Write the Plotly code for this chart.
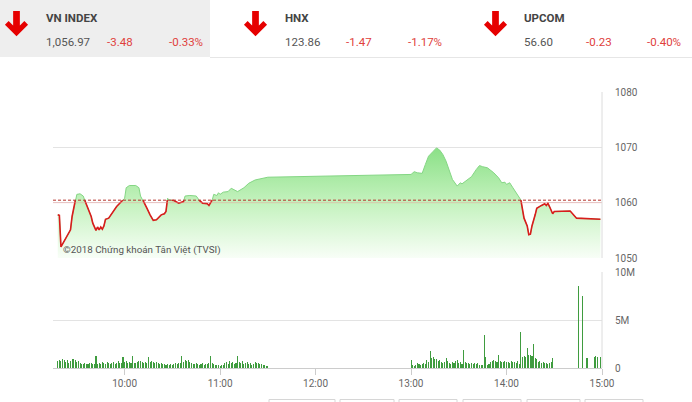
import datetime as dt
import plotly.graph_objects as go

DAY = dt.date(2018, 1, 1)

# ---------------- data ----------------
ref_value = 1060.45

price_times = ["09:18", "09:19", "09:20", "09:22", "09:26", "09:27", "09:29", "09:30", "09:32", "09:34",
               "09:35", "09:37", "09:39", "09:40", "09:42", "09:43", "09:44", "09:45", "09:46", "09:47",
               "09:48", "09:50", "09:52", "09:55", "09:58", "10:00", "10:01", "10:03", "10:07", "10:09",
               "10:10", "10:12", "10:14", "10:16", "10:18", "10:20", "10:23", "10:25", "10:26", "10:27",
               "10:28", "10:31", "10:34", "10:36", "10:37", "10:38", "10:41", "10:45", "10:47", "10:49",
               "10:52", "10:53", "10:55", "10:56", "10:58", "10:59", "11:00", "11:02", "11:05", "11:07",
               "11:09", "11:11", "11:15", "11:18", "11:22", "11:27", "11:30",
               "13:00", "13:02", "13:04", "13:07", "13:09", "13:11", "13:14", "13:16", "13:18", "13:20",
               "13:22", "13:24", "13:26", "13:29", "13:31", "13:32", "13:35", "13:38", "13:41", "13:43",
               "13:45", "13:48", "13:52", "13:55", "13:57", "13:59", "14:00", "14:02", "14:04", "14:06",
               "14:08", "14:09", "14:10", "14:11", "14:13", "14:14", "14:15", "14:16", "14:18", "14:19",
               "14:22", "14:24", "14:25", "14:26", "14:27", "14:29", "14:30", "14:40", "14:44", "14:59"]
price_values = [1057.8, 1057.7, 1052.0, 1053.0, 1055.1, 1057.5, 1060.4, 1061.5, 1061.6, 1061.2,
                1060.4, 1059.0, 1057.5, 1056.3, 1055.0, 1055.6, 1055.1, 1055.6, 1055.2, 1055.8,
                1057.0, 1057.2, 1058.1, 1059.3, 1060.2, 1060.8, 1062.7, 1063.1, 1063.1, 1062.7,
                1061.2, 1060.2, 1059.0, 1057.8, 1056.8, 1056.9, 1057.8, 1058.0, 1058.4, 1060.8,
                1060.5, 1060.4, 1059.9, 1060.1, 1060.2, 1061.2, 1061.3, 1061.2, 1060.4, 1059.9,
                1059.8, 1059.5, 1060.4, 1061.5, 1061.3, 1061.8, 1061.5, 1061.9, 1062.0, 1062.6,
                1062.3, 1062.0, 1062.7, 1063.5, 1064.1, 1064.5, 1064.6,
                1065.1, 1065.6, 1065.4, 1065.3, 1066.9, 1068.4, 1069.3, 1069.9, 1069.5, 1068.7,
                1067.5, 1065.7, 1064.2, 1063.0, 1063.6, 1063.4, 1064.1, 1064.7, 1066.0, 1066.7,
                1066.5, 1066.3, 1065.4, 1064.5, 1063.6, 1063.7, 1063.3, 1063.6, 1062.7, 1061.9,
                1061.1, 1060.5, 1058.7, 1057.2, 1055.8, 1054.2, 1054.3, 1055.8, 1057.8, 1059.0,
                1059.5, 1059.8, 1059.5, 1059.9, 1059.3, 1058.0, 1058.4, 1058.5, 1057.2, 1057.0]

# volume in millions, one bar per minute
morning_start = "09:18"
morning_vol = [0.75, 0.85, 0.7, 0.9, 0.8, 0.65, 0.85, 0.5, 0.7, 0.9, 0.95, 0.85, 0.6, 0.7, 0.55,
               0.45, 0.4, 0.5, 0.45, 0.4, 0.5, 0.55, 0.4, 0.45,
               1.3,
               0.45, 0.5, 0.4, 0.6, 0.5, 0.45, 0.65, 0.5, 0.4, 0.55, 0.6, 0.45, 0.5, 0.7, 0.55, 0.5,
               1.1,
               0.6, 0.75, 0.5, 0.65, 0.55,
               1.3,
               0.5, 0.55, 0.6, 0.7, 0.75, 0.6, 0.5, 0.65, 0.55,
               1.1,
               0.6, 0.7, 0.65, 0.55, 0.6, 0.5, 0.45, 0.55, 0.4, 0.45, 0.35, 0.4, 0.3, 0.45, 0.35, 0.4,
               0.5, 0.45, 0.55, 0.5,
               1.2,
               0.6, 0.8, 0.7, 0.85, 0.65, 0.5, 0.45, 0.4, 0.5, 0.45, 0.35, 0.4, 0.5, 0.35, 0.45, 0.4, 0.5,
               1.2,
               0.5, 0.4, 0.3, 0.35, 0.3, 0.25, 0.35, 0.3, 0.5, 0.6, 0.4, 0.7, 0.5, 0.65, 0.45, 0.55,
               1.2,
               0.6, 0.5, 0.7, 0.45, 0.55, 0.6, 0.4, 0.5, 0.35, 0.45, 0.6, 0.5, 0.55, 0.45, 0.4, 0.35,
               0.3, 0.25, 0.2]

afternoon_start = "13:00"
afternoon_vol = [0.87,
                 0.3, 0.25, 0.3, 0.5, 0.4,
                 0.35, 0.4, 0.5, 0.4, 0.8,
                 0.6, 1.8,
                 1.0, 1.1, 0.95, 0.9, 0.7, 0.8,
                 0.6, 0.5, 0.6, 1.0,
                 0.7, 0.5, 0.45, 0.6, 0.5, 0.7,
                 0.85,
                 0.5, 0.6, 0.4,
                 1.9,
                 0.6, 0.5, 0.55, 0.45, 0.5, 0.4, 0.5, 0.45, 0.5, 0.35, 0.3, 0.3,
                 3.4,
                 1.1,
                 0.3, 0.4, 0.6, 0.7, 0.8, 0.75, 0.6,
                 1.4,
                 0.7, 0.65, 0.6, 0.7, 0.65, 0.6, 0.55, 0.7, 0.6, 0.65, 0.5, 0.7, 0.4,
                 3.75,
                 1.1, 1.2, 1.1,
                 2.1,
                 1.4, 1.4, 1.2,
                 2.5,
                 1.0, 0.9, 0.6, 0.7, 0.55, 0.6, 0.5, 0.5, 0.45, 0.5, 0.6,
                 1.0,
                 0.05, 0.0, 0.05, 0.0, 0.05, 0.0, 0.05, 0.0, 0.05, 0.0, 0.05, 0.0, 0.05,
                 0.0, 0.0,
                 8.5, 0.0, 0.0, 7.5, 0.0,
                 1.0, 1.0,
                 0.0, 0.0, 0.0,
                 1.1, 1.25, 1.15, 0.0, 1.1]

hour_ticks = ["10:00", "11:00", "12:00", "13:00", "14:00", "15:00"]
price_ticks = [1050, 1060, 1070, 1080]
vol_ticks = [0, 5, 10]
vol_tick_text = ["0", "5M", "10M"]

indices = [
    {"name": "VN INDEX", "value": "1,056.97", "change": "-3.48", "pct": "-0.33%"},
    {"name": "HNX", "value": "123.86", "change": "-1.47", "pct": "-1.17%"},
    {"name": "UPCOM", "value": "56.60", "change": "-0.23", "pct": "-0.40%"},
]
watermark = "©2018 Chứng khoán Tân Việt (TVSI)"

# ---------------- helpers ----------------
W, H = 692, 402


def T(s):
    h, m = map(int, s.split(":"))
    return dt.datetime.combine(DAY, dt.time(h, m))


def px(x):
    return x / W


def py(y):
    return 1 - y / H


pt = [T(s) for s in price_times]


def minute_series(start, vals):
    t0 = T(start)
    return [t0 + dt.timedelta(minutes=i) for i in range(len(vals))]


vol_x = minute_series(morning_start, morning_vol) + minute_series(afternoon_start, afternoon_vol)
vol_y = morning_vol + afternoon_vol


def below_segments(ts, vs, thr):
    xs, ys = [], []
    for i in range(len(ts)):
        if i > 0:
            v0, v1 = vs[i - 1], vs[i]
            if (v0 - thr) * (v1 - thr) < 0:
                f = (thr - v0) / (v1 - v0)
                xs.append(ts[i - 1] + (ts[i] - ts[i - 1]) * f)
                ys.append(thr)
                if v1 > thr:
                    xs.append(None)
                    ys.append(None)
        if vs[i] <= thr:
            xs.append(ts[i])
            ys.append(vs[i])
    return xs, ys


red_x, red_y = below_segments(pt, price_values, ref_value)

# ---------------- figure ----------------
X0, X1 = 53, 602
fig = go.Figure()

fig.add_trace(go.Scatter(
    x=pt, y=price_values, mode="lines", xaxis="x", yaxis="y",
    line=dict(color="#84d684", width=1),
    fill="tozeroy",
    fillgradient=dict(type="vertical", start=1050, stop=1070,
                      colorscale=[[0, "rgb(248,254,247)"], [0.5, "rgb(196,242,190)"],
                                  [1, "rgb(138,224,134)"]]),
    hoverinfo="skip", showlegend=False))

fig.add_trace(go.Scatter(
    x=red_x, y=red_y, mode="lines", xaxis="x", yaxis="y",
    line=dict(color="#d91c1c", width=1.6), connectgaps=False,
    hoverinfo="skip", showlegend=False))

fig.add_trace(go.Bar(
    x=vol_x, y=vol_y, xaxis="x2", yaxis="y2", width=40000,
    marker=dict(color="#3f9c3f", line=dict(width=0)),
    hoverinfo="skip", showlegend=False))

xr = [T("09:15"), T("15:00")]
tickfont = dict(family="Roboto", size=10, color="#666666")

shapes = [
    # header background
    dict(type="rect", xref="paper", yref="paper", x0=0, x1=px(210), y0=py(57), y1=1,
         fillcolor="#eeeeee", line=dict(width=0), layer="below"),
    dict(type="line", xref="paper", yref="paper", x0=px(210), x1=1, y0=py(57.5), y1=py(57.5),
         line=dict(color="#e6e6e6", width=1)),
    # pinkish 1060 line and dashed reference line
    dict(type="line", xref="paper", yref="y", x0=px(X0), x1=px(X1), y0=1060, y1=1060,
         line=dict(color="rgba(240,150,150,0.45)", width=1)),
    dict(type="line", xref="paper", yref="y", x0=px(X0), x1=px(X1), y0=ref_value, y1=ref_value,
         line=dict(color="#b5332b", width=1, dash="3px,2px")),
    # right borders
    dict(type="line", xref="paper", yref="paper", x0=px(X1), x1=px(X1), y0=py(258), y1=py(92),
         line=dict(color="#dcdcdc", width=1)),
    dict(type="line", xref="paper", yref="paper", x0=px(X1), x1=px(X1), y0=py(368), y1=py(272),
         line=dict(color="#dcdcdc", width=1)),
]

# bottom tabs edges
for a, b in [(269, 335), (340, 394), (399, 457), (463, 521), (527, 580), (585, 643)]:
    shapes.append(dict(type="rect", xref="paper", yref="paper", x0=px(a), x1=px(b),
                       y0=py(403), y1=py(399.5), fillcolor="white",
                       line=dict(color="#d6d6d6", width=1)))


def arrow_path(cx, top, s=1.05):
    pts = [(0, 24), (-11, 13), (-7.5, 9.5), (-3.2, 13.8), (-3.2, 0), (3.2, 0), (3.2, 13.8),
           (7.5, 9.5), (11, 13)]
    coords = [(px(cx + dx * s), py(top + dy * s)) for dx, dy in pts]
    return "M " + " L ".join(f"{x:.5f},{y:.5f}" for x, y in coords) + " Z"


annotations = []
blocks = [(16.5, 44, 105, 167), (255.5, 283, 344, 406), (495.5, 522, 584, 645)]
for info, (acx, xn, xc, xp) in zip(indices, blocks):
    shapes.append(dict(type="path", xref="paper", yref="paper", path=arrow_path(acx, 11),
                       fillcolor="#e60000", line=dict(width=0)))
    annotations.append(dict(x=px(xn), y=py(18), xref="paper", yref="paper", text=info["name"],
                            showarrow=False, xanchor="left", yanchor="middle",
                            font=dict(family="Roboto", size=11.5, color="#444444", weight="bold")))
    annotations.append(dict(x=px(xn), y=py(42), xref="paper", yref="paper", text=info["value"],
                            showarrow=False, xanchor="left", yanchor="middle",
                            font=dict(family="Roboto", size=11.5, color="#555555")))
    annotations.append(dict(x=px(xc), y=py(42), xref="paper", yref="paper", text=info["change"],
                            showarrow=False, xanchor="left", yanchor="middle",
                            font=dict(family="Roboto", size=11.5, color="#e0403c")))
    annotations.append(dict(x=px(xp), y=py(42), xref="paper", yref="paper", text=info["pct"],
                            showarrow=False, xanchor="left", yanchor="middle",
                            font=dict(family="Roboto", size=11.5, color="#e0403c")))

annotations.append(dict(x=px(61), y=py(250), xref="paper", yref="paper", text=watermark,
                        showarrow=False, xanchor="left", yanchor="middle",
                        font=dict(family="Roboto", size=9.8, color="#555555")))

fig.update_layout(
    autosize=True, margin=dict(l=0, r=0, t=0, b=0, autoexpand=False),
    paper_bgcolor="white", plot_bgcolor="rgba(0,0,0,0)",
    bargap=0,
    xaxis=dict(domain=[px(X0), px(X1)], anchor="y", type="date", range=xr,
               showticklabels=False, showgrid=False, zeroline=False, showline=False, ticks=""),
    yaxis=dict(domain=[py(258), py(92)], anchor="x", range=[1050, 1080], side="right",
               tickvals=price_ticks, gridcolor="#e3e3e3", gridwidth=1, zeroline=False,
               showline=False, ticks="", tickfont=tickfont, ticklabelstandoff=12),
    xaxis2=dict(domain=[px(X0), px(X1)], anchor="y2", type="date", range=xr,
                tickvals=[T(s) for s in hour_ticks], ticktext=hour_ticks,
                showgrid=False, zeroline=False, showline=True, linecolor="#cccccc",
                ticks="outside", ticklen=6, tickcolor="#cccccc", tickfont=tickfont),
    yaxis2=dict(domain=[py(368), py(272)], anchor="x2", range=[0, 10], side="right",
                tickvals=vol_ticks, ticktext=vol_tick_text, gridcolor="#e3e3e3",
                zeroline=False, showline=False, ticks="", tickfont=tickfont,
                ticklabelstandoff=12),
    shapes=shapes, annotations=annotations,
)

post = ("document.documentElement.style.margin='0';document.documentElement.style.overflow='hidden';"
        "document.body.style.margin='0';document.body.style.overflow='hidden';"
        "var gd=document.getElementById('{plot_id}');gd.style.width='100vw';gd.style.height='100vh';"
        "Plotly.Plots.resize(gd);")

fig.write_html("out.html", default_width="100vw", default_height="100vh",
               config={"displayModeBar": False, "staticPlot": True, "responsive": True},
               post_script=post)
